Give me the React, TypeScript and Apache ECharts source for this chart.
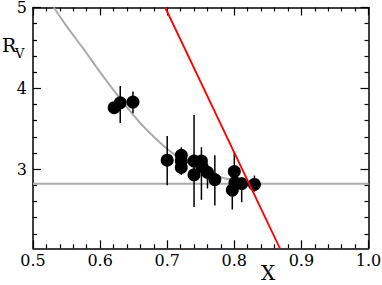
import React, { useEffect, useRef } from "react";
import * as echarts from "echarts";

// Gray model curve
const curveX = [0.531, 0.55, 0.575, 0.6, 0.63, 0.66, 0.68, 0.7, 0.72, 0.74, 0.76, 0.78, 0.8, 0.82, 0.84];
const curveY = [5.0, 4.77, 4.49, 4.2, 3.87, 3.57, 3.4, 3.25, 3.13, 3.04, 2.96, 2.9, 2.86, 2.83, 2.82];
// Gray horizontal level
const flatX = [0.5, 1.0];
const flatLevel = 2.82;
// Red line
const redX = [0.697, 0.868];
const redY = [5.0, 2.02];
// Data points with error bars (null = no visible bar)
const ptX = [0.621, 0.63, 0.649, 0.7, 0.721, 0.721, 0.721, 0.74, 0.74, 0.751, 0.752, 0.76, 0.771, 0.8, 0.797, 0.801, 0.811, 0.83];
const ptY = [3.76, 3.82, 3.83, 3.11, 3.17, 3.1, 3.02, 3.1, 2.93, 3.1, 3.03, 2.96, 2.87, 2.97, 2.74, 2.83, 2.82, 2.81];
const errLo = [null, 3.57, 3.69, 2.8, 3.08, null, 2.93, 2.53, null, 2.62, null, 2.76, 2.55, 2.75, 2.5, null, 2.59, 2.72];
const errHi = [null, 4.03, 3.96, 3.41, 3.27, null, 3.1, 3.67, null, 3.27, null, 3.05, 3.17, 3.21, 2.9, null, 2.9, 2.92];
// Axes
const xMin = 0.5;
const xMax = 1.0;
const yMin = 2.02;
const yMax = 5;
const yMajor = [3, 4, 5];
const yMinor = [2.2, 2.4, 2.6, 2.8, 3.2, 3.4, 3.6, 3.8, 4.2, 4.4, 4.6, 4.8];

const FONT = "'DejaVu Serif', serif";

export default function App() {
  const ref = useRef<HTMLDivElement>(null);
  useEffect(() => {
    if (!ref.current) return;
    const chart = echarts.init(ref.current, undefined, { renderer: "svg" });
    const axisLine = { show: true, lineStyle: { color: "#000", width: 1.5 } };
    const tickStyle = { color: "#000", width: 1.2 };
    const xAxisBase = (pos: string, labels: boolean) => ({
      type: "value",
      position: pos,
      min: xMin,
      max: xMax,
      interval: 0.1,
      axisLine,
      axisTick: { show: true, inside: true, length: 8, lineStyle: tickStyle },
      minorTick: { show: true, splitNumber: 5, length: 4, lineStyle: tickStyle },
      splitLine: { show: false },
      minorSplitLine: { show: false },
      axisLabel: {
        show: labels,
        formatter: (v: number) => v.toFixed(1),
        fontFamily: FONT,
        fontSize: 16,
        color: "#000",
        margin: 4,
      },
    });
    const yAxisBase = (pos: string, major: boolean, labels: boolean) => ({
      type: "value",
      position: pos,
      min: yMin,
      max: yMax,
      axisLine: major ? axisLine : { show: false },
      axisTick: {
        show: true,
        inside: true,
        length: major ? 8 : 4,
        lineStyle: tickStyle,
        customValues: major ? yMajor : yMinor,
      },
      splitLine: { show: false },
      axisLabel: {
        show: labels,
        customValues: yMajor,
        fontFamily: FONT,
        fontSize: 16,
        color: "#000",
        margin: 6,
      },
    });
    const errData = ptX
      .map((x, i) => (errLo[i] == null ? null : [x, errLo[i], errHi[i]]))
      .filter((d) => d != null);
    chart.setOption({
      animation: false,
      textStyle: { fontFamily: FONT },
      grid: { left: 33, right: 13.5, top: 7.5, bottom: 36.7, containLabel: false, outerBoundsMode: "none" },
      xAxis: [xAxisBase("bottom", true), xAxisBase("top", false)],
      yAxis: [
        yAxisBase("left", true, true),
        yAxisBase("left", false, false),
        yAxisBase("right", true, false),
        yAxisBase("right", false, false),
      ],
      graphic: [
        { type: "text", left: 2, top: 35, style: { text: "R", font: `19px ${FONT}`, fill: "#000" } },
        { type: "text", left: 15, top: 47, style: { text: "V", font: `13px ${FONT}`, fill: "#000" } },
        { type: "text", left: 261, top: 263, style: { text: "X", font: `20px ${FONT}`, fill: "#000" } },
      ],
      series: [
        {
          type: "line",
          data: flatX.map((x) => [x, flatLevel]),
          symbol: "none",
          lineStyle: { color: "#ababab", width: 2 },
          z: 1,
        },
        {
          type: "line",
          data: curveX.map((x, i) => [x, curveY[i]]),
          smooth: 0.3,
          symbol: "none",
          lineStyle: { color: "#ababab", width: 2 },
          z: 1,
        },
        {
          type: "custom",
          data: errData,
          encode: { x: 0, y: [1, 2] },
          renderItem: (params: any, api: any) => {
            const x = api.value(0);
            const p1 = api.coord([x, api.value(1)]);
            const p2 = api.coord([x, api.value(2)]);
            return {
              type: "line",
              shape: { x1: p1[0], y1: p1[1], x2: p2[0], y2: p2[1] },
              style: { stroke: "#000", lineWidth: 1.5 },
            };
          },
          z: 2,
        },
        {
          type: "scatter",
          data: ptX.map((x, i) => [x, ptY[i]]),
          symbol: "circle",
          symbolSize: 13,
          itemStyle: { color: "#000", opacity: 1 },
          z: 3,
        },
        {
          type: "line",
          data: redX.map((x, i) => [x, redY[i]]),
          symbol: "none",
          lineStyle: { color: "#ff0000", width: 1.8 },
          z: 4,
        },
      ],
    });
    return () => chart.dispose();
  }, []);
  return <div ref={ref} style={{ position: "absolute", left: 0, top: 0, width: 382, height: 285 }} />;
}
